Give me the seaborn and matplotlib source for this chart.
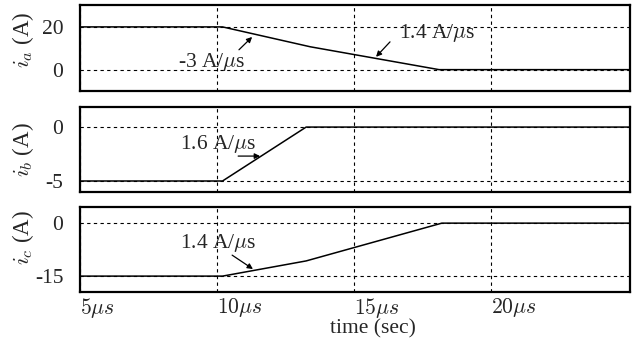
import numpy as np
import pandas as pd
import matplotlib
matplotlib.use("Agg")
import matplotlib.pyplot as plt
import seaborn as sns

sns.set_style("white")
plt.rcParams.update({
    'font.family': ['Liberation Serif', 'DejaVu Serif'],
    'mathtext.fontset': 'cm',
    'font.size': 15.5,
})

# phase currents (time in microseconds, current in A)
t_a = [5, 10.2, 13.4, 18.1, 25.1]
i_a = [20, 20, 10.7, 0, 0]
t_b = [5, 10.2, 13.25, 25.1]
i_b = [-5, -5, 0, 0]
t_c = [5, 10.2, 13.25, 18.2, 25.1]
i_c = [-15, -15, -10.7, 0, 0]

x_ticks = [5, 10, 15, 20]
x_labels = [r'$5\mu s$', r'$10\mu s$', r'$15\mu s$', r'$20\mu s$']

panels = [
    dict(t=t_a, i=i_a, ylabel=r'$i_a$ (A)', yticks=[0, 20], ylim=(-10, 30.2),
         rect=[0.1244, 0.7362, 0.8556, 0.249], lab_y=0.59),
    dict(t=t_b, i=i_b, ylabel=r'$i_b$ (A)', yticks=[-5, 0], ylim=(-6.02, 1.85),
         rect=[0.1244, 0.4435, 0.8556, 0.246], lab_y=0.5),
    dict(t=t_c, i=i_c, ylabel=r'$i_c$ (A)', yticks=[-15, 0], ylim=(-19.5, 4.53),
         rect=[0.1244, 0.1536, 0.8556, 0.246], lab_y=0.64),
]

fig = plt.figure(figsize=(6.43, 3.45), dpi=100)
axes = []
for k, p in enumerate(panels):
    ax = fig.add_axes(p['rect'])
    df = pd.DataFrame({'t': p['t'], 'i': p['i']})
    sns.lineplot(data=df, x='t', y='i', ax=ax, color='black', lw=1.1, sort=False)
    ax.set_xlim(5, 25.07)
    ax.set_ylim(*p['ylim'])
    ax.set_xticks(x_ticks)
    ax.set_yticks(p['yticks'])
    ax.set_yticklabels([str(v) for v in p['yticks']])
    ax.grid(True, color='black', linestyle=(0, (3, 3)), lw=0.8)
    ax.tick_params(length=0, pad=12, axis='y')
    ax.tick_params(length=0, pad=3, axis='x')
    if k < 2:
        ax.set_xticklabels([])
    else:
        ax.set_xticklabels(x_labels, ha='left')
    ax.set_xlabel('')
    ax.set_ylabel(p['ylabel'], fontsize=16.5)
    ax.yaxis.set_label_coords(-0.08, p['lab_y'])
    for s in ax.spines.values():
        s.set_linewidth(1.6)
        s.set_color('black')
    axes.append(ax)

arrow = dict(arrowstyle='-|>', color='black', lw=0.9, mutation_scale=8, shrinkA=0, shrinkB=0)

ax = axes[0]
ax.text(9.82, 3.7, r'-3 A/$\mu$s', ha='center', va='center')
ax.annotate('', xy=(11.28, 15.3), xytext=(10.8, 9.3), arrowprops=arrow)
ax.text(18.03, 17.2, r'1.4 A/$\mu$s', ha='center', va='center')
ax.annotate('', xy=(15.8, 6.0), xytext=(16.31, 13.0), arrowprops=arrow)

ax = axes[1]
ax.text(10.04, -1.57, r'1.6 A/$\mu$s', ha='center', va='center')
ax.annotate('', xy=(11.57, -2.69), xytext=(10.77, -2.69), arrowprops=arrow)

ax = axes[2]
ax.text(10.04, -5.66, r'1.4 A/$\mu$s', ha='center', va='center')
ax.annotate('', xy=(11.31, -13.0), xytext=(10.55, -9.06), arrowprops=arrow)

fig.text(373 / 643, 1 - 329 / 345, 'time (sec)', ha='center', va='center')

fig.savefig('out.png', dpi=100)
